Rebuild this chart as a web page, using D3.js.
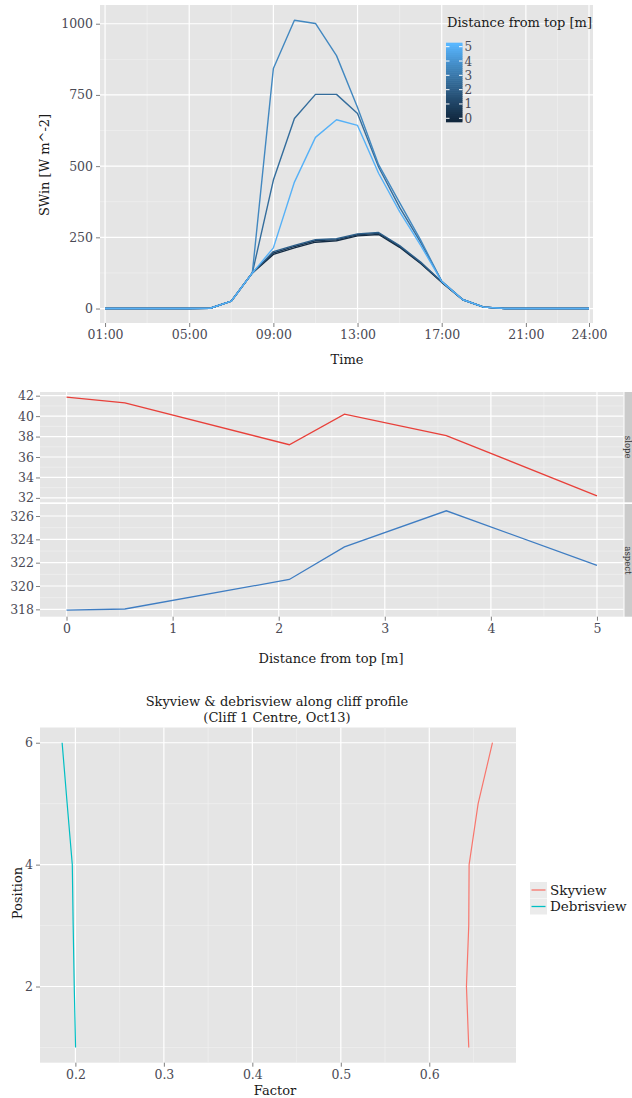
<!DOCTYPE html>
<html>
<head>
<meta charset="utf-8">
<script src="https://cdn.jsdelivr.net/npm/d3@7"></script>
<style>
  html, body { margin: 0; padding: 0; background: #fff; }
  svg text { font-family: "DejaVu Serif", "Liberation Serif", serif; }
</style>
</head>
<body>
<svg id="chart" width="632" height="1098"></svg>
<script>
// ---------- Panel 1: incoming shortwave radiation by hour ----------
const hours = [1, 2, 3, 4, 5, 6, 7, 8, 9, 10, 11, 12, 13, 14, 15, 16, 17, 18, 19, 20, 21, 22, 23, 24];
const hourTicks = [1, 5, 9, 13, 17, 21, 24];
const hourTickLabels = ["01:00", "05:00", "09:00", "13:00", "17:00", "21:00", "24:00"];
const swinTicks = [0, 250, 500, 750, 1000];

const profileDistances = [0, 0.55, 2.1, 2.62, 3.58, 5];
const swinD000 = [0, 0, 0, 0, 0, 1, 26, 125, 190, 213, 233, 238, 255, 260, 215, 158, 92, 31, 5, 0, 0, 0, 0, 0];
const swinD055 = [0, 0, 0, 0, 0, 1, 26, 125, 195, 218, 238, 242, 259, 264, 218, 160, 93, 31, 5, 0, 0, 0, 0, 0];
const swinD210 = [0, 0, 0, 0, 0, 1, 26, 125, 200, 222, 242, 245, 262, 267, 221, 163, 94, 31, 5, 0, 0, 0, 0, 0];
const swinD262 = [0, 0, 0, 0, 0, 1, 26, 125, 451, 667, 752, 752, 685, 497, 355, 232, 96, 32, 5, 0, 0, 0, 0, 0];
const swinD358 = [0, 0, 0, 0, 0, 1, 26, 125, 843, 1012, 1001, 888, 706, 505, 372, 240, 96, 32, 5, 0, 0, 0, 0, 0];
const swinD500 = [0, 0, 0, 0, 0, 1, 26, 125, 213, 444, 601, 663, 643, 475, 340, 222, 95, 31, 5, 0, 0, 0, 0, 0];
const swinSeries = [swinD000, swinD055, swinD210, swinD262, swinD358, swinD500];
const legendTicks = [0, 1, 2, 3, 4, 5];

// ---------- Panel 2: slope and aspect along the profile ----------
const distTop = [0, 0.55, 2.1, 2.62, 3.58, 5];
const slopeDeg = [41.85, 41.3, 37.2, 40.2, 38.1, 32.2];
const aspectDeg = [317.94, 318.03, 320.56, 323.35, 326.45, 321.77];
const distTicks = [0, 1, 2, 3, 4, 5];
const slopeTicks = [32, 34, 36, 38, 40, 42];
const aspectTicks = [318, 320, 322, 324, 326];
const facetLabels = ["slope", "aspect"];

// ---------- Panel 3: view factors along the cliff ----------
const position = [1, 2, 3, 4, 5, 6];
const skyview = [0.6446, 0.642, 0.6446, 0.645, 0.6552, 0.6714];
const debrisview = [0.2002, 0.1987, 0.1975, 0.1965, 0.1907, 0.185];
const factorTicks = [0.2, 0.3, 0.4, 0.5, 0.6];
const positionTicks = [2, 4, 6];
const viewNames = ["Skyview", "Debrisview"];
const viewColors = ["#F8766D", "#00BFC4"];

// ---------- shared styling ----------
const PANEL_BG = "#E5E5E5";
const MINOR = "#F2F2F2";
const TICK_TXT = "#4a4a55";
const TITLE_TXT = "#1a1a1a";
const TICK_FS = 12.5;
const TITLE_FS = 13;
const plain = d => String(d);

const svg = d3.select("#chart");

function panelBackground(g, x0, x1, y0, y1) {
  g.append("rect").attr("x", x0).attr("y", y0)
    .attr("width", x1 - x0).attr("height", y1 - y0).attr("fill", PANEL_BG);
}
function vLines(g, xs, scale, y0, y1, color, w) {
  g.selectAll(null).data(xs).join("line")
    .attr("x1", d => scale(d)).attr("x2", d => scale(d))
    .attr("y1", y0).attr("y2", y1)
    .attr("stroke", color).attr("stroke-width", w);
}
function hLines(g, ys, scale, x0, x1, color, w) {
  g.selectAll(null).data(ys).join("line")
    .attr("y1", d => scale(d)).attr("y2", d => scale(d))
    .attr("x1", x0).attr("x2", x1)
    .attr("stroke", color).attr("stroke-width", w);
}
function styleAxis(sel) {
  sel.select(".domain").remove();
  sel.selectAll(".tick line").attr("stroke", "#7f7f7f").attr("stroke-width", 1);
  sel.selectAll(".tick text").attr("fill", TICK_TXT)
    .style("font-size", TICK_FS + "px")
    .style("font-family", "'DejaVu Serif', serif");
}

// ================= Panel 1 =================
{
  const L = 100, R = 593, T = 5, B = 323;
  const x = d3.scaleLinear().domain([0.76, 24.19]).range([L, R]);
  const y = d3.scaleLinear().domain([-50.75, 1065.75]).range([B, T]);
  const color = d3.scaleLinear().domain([0, 5])
    .range(["#132B43", "#56B1F7"]).interpolate(d3.interpolateLab);

  const g = svg.append("g");
  panelBackground(g, L, R, T, B);
  vLines(g, [3, 7, 11, 15, 19, 22.5], x, T, B, MINOR, 0.6);
  hLines(g, [125, 375, 625, 875], y, L, R, MINOR, 0.6);
  vLines(g, hourTicks, x, T, B, "#fff", 1.2);
  hLines(g, swinTicks, y, L, R, "#fff", 1.2);

  const line = d3.line().x((d, i) => x(hours[i])).y(d => y(d));
  g.selectAll(".swin").data(swinSeries).join("path")
    .attr("class", "swin")
    .attr("d", d => line(d))
    .attr("fill", "none")
    .attr("stroke", (d, i) => color(profileDistances[i]))
    .attr("stroke-width", 1.4)
    .attr("stroke-linejoin", "round");

  g.append("g").attr("transform", `translate(${L},0)`)
    .call(d3.axisLeft(y).tickValues(swinTicks).tickFormat(plain).tickSize(4).tickPadding(3))
    .call(styleAxis);
  g.append("g").attr("transform", `translate(0,${B})`)
    .call(d3.axisBottom(x).tickValues(hourTicks)
      .tickFormat((d, i) => hourTickLabels[i]).tickSize(4).tickPadding(3))
    .call(styleAxis);

  g.append("text").attr("x", 347).attr("y", 364).attr("text-anchor", "middle")
    .attr("fill", TITLE_TXT).style("font-size", TITLE_FS + "px").text("Time");
  g.append("text").attr("transform", "translate(49,165) rotate(-90)")
    .attr("text-anchor", "middle").attr("fill", TITLE_TXT)
    .style("font-size", TITLE_FS + "px").text("SWin [W m^-2]");

  // colour bar legend
  const lg = g.append("g");
  lg.append("text").attr("x", 447).attr("y", 27).attr("fill", TITLE_TXT)
    .style("font-size", TITLE_FS + "px").text("Distance from top [m]");
  const ly = d3.scaleLinear().domain([0, 5]).range([118.3, 46.7]);
  const barX = 446, barW = 16.5;
  const steps = d3.range(0, 40).map(i => -0.26 + i * (5.52 / 40));
  lg.selectAll(".bin").data(steps).join("rect")
    .attr("class", "bin")
    .attr("x", barX).attr("width", barW)
    .attr("y", d => ly(d + 5.52 / 40) - 0.3)
    .attr("height", ly(0) - ly(5.52 / 40) + 0.6)
    .attr("fill", d => color(d + 5.52 / 80));
  lg.selectAll(".lt").data(legendTicks).join("g").each(function (d) {
    const s = d3.select(this);
    s.append("line").attr("x1", barX).attr("x2", barX + 3.5)
      .attr("y1", ly(d)).attr("y2", ly(d)).attr("stroke", "#fff");
    s.append("line").attr("x1", barX + barW - 3.5).attr("x2", barX + barW)
      .attr("y1", ly(d)).attr("y2", ly(d)).attr("stroke", "#fff");
    s.append("text").attr("x", barX + barW + 2).attr("y", ly(d) + 4.5)
      .attr("fill", TICK_TXT).style("font-size", "12px").text(d);
  });
}

// ================= Panel 2 =================
{
  const L = 40, R = 623.5;
  const x = d3.scaleLinear().domain([-0.25, 5.25]).range([L, R]);
  const facets = [
    { vals: slopeDeg, ticks: slopeTicks, minor: [33, 35, 37, 39, 41],
      y: d3.scaleLinear().domain([31.57, 42.36]).range([502.3, 392]),
      T: 392, B: 502.3, col: "#E8403A", label: facetLabels[0] },
    { vals: aspectDeg, ticks: aspectTicks, minor: [319, 321, 323, 325],
      y: d3.scaleLinear().domain([317.37, 327.03]).range([616.7, 504]),
      T: 504, B: 616.7, col: "#3F7DC2", label: facetLabels[1] }
  ];
  const g = svg.append("g");
  facets.forEach(f => {
    const fg = g.append("g");
    panelBackground(fg, L, R, f.T, f.B);
    vLines(fg, [0.5, 1.5, 2.5, 3.5, 4.5], x, f.T, f.B, MINOR, 0.6);
    hLines(fg, f.minor, f.y, L, R, MINOR, 0.6);
    vLines(fg, distTicks, x, f.T, f.B, "#fff", 1.2);
    hLines(fg, f.ticks, f.y, L, R, "#fff", 1.2);
    fg.append("path")
      .attr("d", d3.line().x((d, i) => x(distTop[i])).y(d => f.y(d))(f.vals))
      .attr("fill", "none").attr("stroke", f.col).attr("stroke-width", 1.3);
    fg.append("g").attr("transform", `translate(${L},0)`)
      .call(d3.axisLeft(f.y).tickValues(f.ticks).tickFormat(plain).tickSize(4).tickPadding(2))
      .call(styleAxis);
    // facet strip
    fg.append("rect").attr("x", 624.5).attr("y", f.T)
      .attr("width", 18).attr("height", f.B - f.T).attr("fill", "#CBCBCB");
    fg.append("text")
      .attr("transform", `translate(625,${(f.T + f.B) / 2}) rotate(90)`)
      .attr("text-anchor", "middle").attr("fill", "#333")
      .style("font-size", "8.5px").text(f.label);
  });
  g.append("g").attr("transform", `translate(0,616.7)`)
    .call(d3.axisBottom(x).tickValues(distTicks).tickFormat(plain).tickSize(4).tickPadding(3))
    .call(styleAxis);
  g.append("text").attr("x", 331).attr("y", 663).attr("text-anchor", "middle")
    .attr("fill", TITLE_TXT).style("font-size", TITLE_FS + "px")
    .text("Distance from top [m]");
}

// ================= Panel 3 =================
{
  const L = 40, R = 516, T = 727.5, B = 1062.7;
  const x = d3.scaleLinear().domain([0.16, 0.698]).range([L, R]);
  const y = d3.scaleLinear().domain([0.75, 6.25]).range([B, T]);
  const g = svg.append("g");
  panelBackground(g, L, R, T, B);
  vLines(g, [0.25, 0.35, 0.45, 0.55, 0.65], x, T, B, MINOR, 0.6);
  hLines(g, [1, 3, 5], y, L, R, MINOR, 0.6);
  vLines(g, factorTicks, x, T, B, "#fff", 1.2);
  hLines(g, positionTicks, y, L, R, "#fff", 1.2);

  [skyview, debrisview].forEach((vals, k) => {
    g.append("path")
      .attr("d", d3.line().x(d => x(d)).y((d, i) => y(position[i]))(vals))
      .attr("fill", "none").attr("stroke", viewColors[k]).attr("stroke-width", 1.2);
  });

  g.append("g").attr("transform", `translate(${L},0)`)
    .call(d3.axisLeft(y).tickValues(positionTicks).tickFormat(plain).tickSize(4).tickPadding(3))
    .call(styleAxis);
  g.append("g").attr("transform", `translate(0,${B})`)
    .call(d3.axisBottom(x).tickValues(factorTicks).tickFormat(d3.format(".1f"))
      .tickSize(4).tickPadding(3))
    .call(styleAxis);

  g.append("text").attr("x", 275).attr("y", 1095).attr("text-anchor", "middle")
    .attr("fill", TITLE_TXT).style("font-size", TITLE_FS + "px").text("Factor");
  g.append("text").attr("transform", "translate(22,893) rotate(-90)")
    .attr("text-anchor", "middle").attr("fill", TITLE_TXT)
    .style("font-size", TITLE_FS + "px").text("Position");

  g.append("text").attr("x", 277).attr("y", 706).attr("text-anchor", "middle")
    .attr("fill", TITLE_TXT).style("font-size", TITLE_FS + "px")
    .text("Skyview & debrisview along cliff profile");
  g.append("text").attr("x", 277).attr("y", 722).attr("text-anchor", "middle")
    .attr("fill", TITLE_TXT).style("font-size", TITLE_FS + "px")
    .text("(Cliff 1 Centre, Oct13)");

  const lg = g.append("g");
  viewNames.forEach((name, k) => {
    const ky = 882 + k * 16.5;
    lg.append("rect").attr("x", 530).attr("y", ky).attr("width", 17).attr("height", 16)
      .attr("fill", "#EBEBEB");
    lg.append("line").attr("x1", 531.5).attr("x2", 545.5)
      .attr("y1", ky + 8).attr("y2", ky + 8)
      .attr("stroke", viewColors[k]).attr("stroke-width", 1.3);
    lg.append("text").attr("x", 550).attr("y", ky + 12.5)
      .attr("fill", TITLE_TXT).style("font-size", "13.5px").text(name);
  });
}
</script>
</body>
</html>
